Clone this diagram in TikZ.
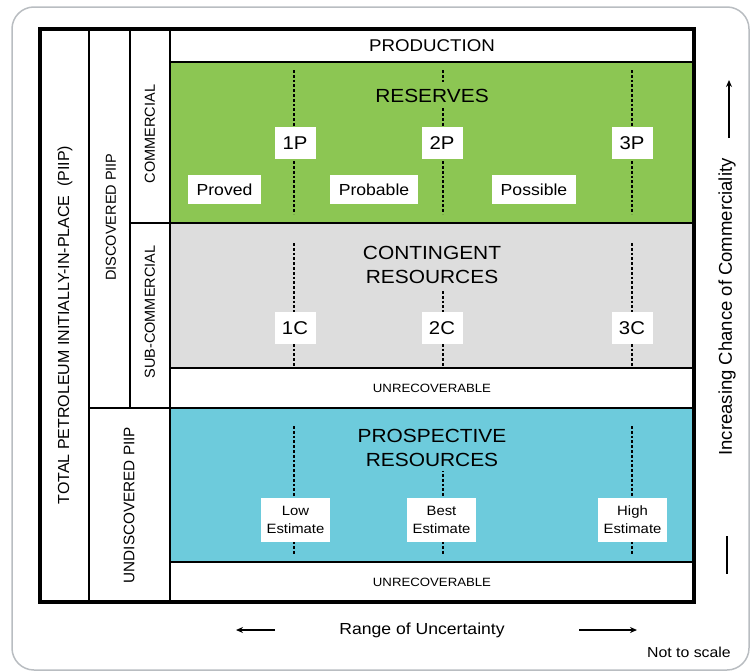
\documentclass[tikz,border=0pt]{standalone}
\usepackage{fontspec}
\setmainfont{Liberation Sans}[FakeStretch=1.1]
\newfontfamily\sidefont{Liberation Sans}
\usetikzlibrary{arrows, arrows.meta}
\definecolor{resGreen}{HTML}{8CC653}
\definecolor{conGrey}{HTML}{DDDDDD}
\definecolor{proBlue}{HTML}{6DCBDC}
\definecolor{frameGrey}{HTML}{B9BDC1}
\newcommand{\fsz}[2]{\fontsize{#1}{#2}\selectfont}
\tikzstyle{frame} = [draw=black, line width=3.2pt]
\tikzstyle{divider} = [draw=black, line width=2.4pt]
\tikzstyle{guideline} = [line width=2.7pt, dash pattern=on 2.7pt off 2.1pt]
\tikzstyle{title} = [align=center, inner xsep=3pt, inner ysep=5pt, font=\fsz{19}{24}]
\tikzstyle{tier} = [fill=white, inner sep=0pt, minimum width=41pt, minimum height=32pt, font=\fsz{18.5}{22}]
\tikzstyle{classbox} = [fill=white, inner xsep=9pt, inner ysep=0pt, minimum height=29pt, font=\fsz{16}{19}]
\tikzstyle{estbox} = [fill=white, align=center, inner sep=0pt, minimum width=69pt, minimum height=44pt, font=\fsz{13.5}{18}]
\tikzstyle{rowlabel} = [font=\fsz{12}{14}]
\tikzstyle{sidelabel} = [rotate=90, inner sep=0pt]
\tikzstyle{arrow} = [line width=2pt, ->, >={Stealth[length=7pt, width=6pt]}]
\tikzstyle{plainline} = [line width=2pt, -]

\begin{document}
\begin{tikzpicture}[x=1pt, y=-1pt]
    \useasboundingbox (0,0) rectangle (750,672);
    \draw[frameGrey, line width=1.5pt, rounded corners=22pt] (12,7) rectangle (749,670);

    % coloured classes
    \fill[resGreen] (170,62) rectangle (694,223);
    \fill[conGrey] (170,223) rectangle (694,368);
    \fill[proBlue] (170,408) rectangle (694,562);

    % uncertainty guides
    \foreach \gx in {294,443,632} {
        \draw[guideline] (\gx,70) -- (\gx,214);
        \draw[guideline] (\gx,243) -- (\gx,367);
        \draw[guideline] (\gx,426) -- (\gx,554);
    }

    % grid
    \draw[frame] (40,29) rectangle (694,602);
    \draw[divider] (89,29) -- (89,602);
    \draw[divider] (130,29) -- (130,408);
    \draw[divider] (170,29) -- (170,602);
    \draw[divider] (170,62) -- (694,62);
    \draw[divider] (130,223) -- (694,223);
    \draw[divider] (170,368) -- (694,368);
    \draw[divider] (89,408) -- (694,408);
    \draw[divider] (170,562) -- (694,562);

    \node (production) [font=\fsz{17}{20}] at (432,45.5) {PRODUCTION};
    \node (reserves) [title, fill=resGreen] at (432,96) {RESERVES};
    \node (contingent) [title, fill=conGrey] at (432,265) {CONTINGENT\\RESOURCES};
    \node (prospective) [title, fill=proBlue] at (432,447.5) {PROSPECTIVE\\RESOURCES};
    \node (unrecA) [rowlabel] at (432,388) {UNRECOVERABLE};
    \node (unrecB) [rowlabel] at (432,582) {UNRECOVERABLE};

    \node (p1) [tier] at (295,143) {1P};
    \node (p2) [tier] at (442,143) {2P};
    \node (p3) [tier] at (632,143) {3P};
    \node (proved) [classbox] at (224.5,189.5) {Proved};
    \node (probable) [classbox] at (374,189.5) {Probable};
    \node (possible) [classbox] at (534,189.5) {Possible};
    \node (c1) [tier] at (295,328) {1C};
    \node (c2) [tier] at (442,328) {2C};
    \node (c3) [tier] at (632,328) {3C};
    \node (low) [estbox] at (295.5,519.5) {Low\\Estimate};
    \node (best) [estbox] at (441.5,519.5) {Best\\Estimate};
    \node (high) [estbox] at (632.5,519.5) {High\\Estimate};

    \node (piip) [sidelabel, font=\sidefont\fsz{16}{19}] at (65,325) {TOTAL PETROLEUM INITIALLY-IN-PLACE\ \ (PIIP)};
    \node (discovered) [sidelabel, font=\sidefont\fsz{14.5}{17}] at (111,217) {DISCOVERED PIIP};
    \node (commercial) [sidelabel, font=\sidefont\fsz{14.5}{17}] at (150,134) {COMMERCIAL};
    \node (subcommercial) [sidelabel, font=\sidefont\fsz{14.5}{17}] at (150,312) {SUB-COMMERCIAL};
    \node (undiscovered) [sidelabel, font=\sidefont\fsz{15.3}{18}] at (129,505) {UNDISCOVERED PIIP};
    \node (chance) [sidelabel, font=\sidefont\fsz{18.5}{22}] at (727,307) {Increasing Chance of Commerciality};

    \node (range) [font=\fsz{16}{19}] at (422,630) {Range of Uncertainty};
    \node (scale) [font=\fsz{14.4}{17}, anchor=east, inner sep=0pt] at (731,652) {Not to scale};

    \coordinate (rangeL1) at (275,630);
    \coordinate (rangeL2) at (236,630);
    \coordinate (rangeR1) at (579,630);
    \coordinate (rangeR2) at (637,630);
    \coordinate (chanceUp1) at (729,138);
    \coordinate (chanceUp2) at (729,80);
    \coordinate (chanceLo1) at (727,536);
    \coordinate (chanceLo2) at (727,574);

    \draw[arrow] (rangeL1) -- (rangeL2);
    \draw[arrow] (rangeR1) -- (rangeR2);
    \draw[arrow] (chanceUp1) -- (chanceUp2);
    \draw[plainline] (chanceLo1) -- (chanceLo2);

\end{tikzpicture}
\end{document}
